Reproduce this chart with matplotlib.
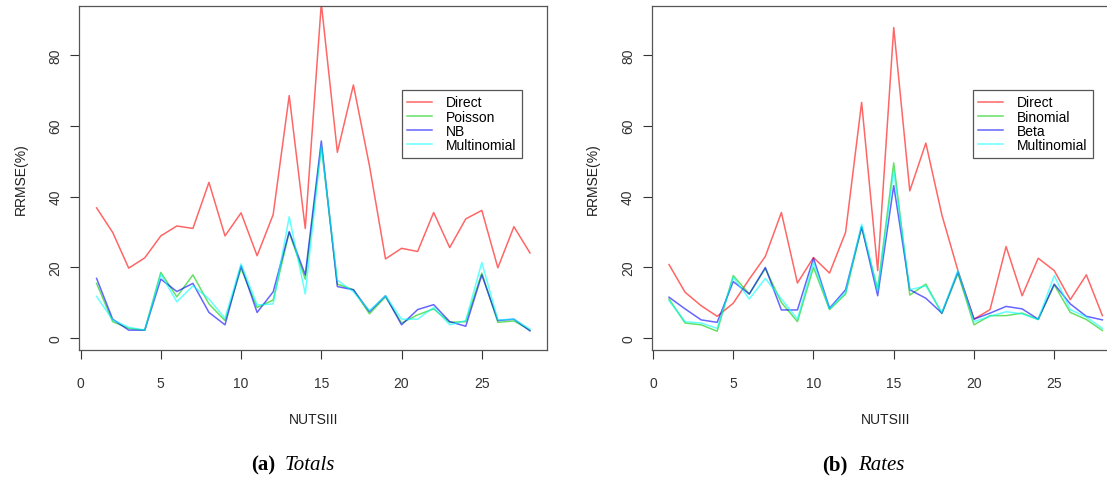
import matplotlib
matplotlib.use("Agg")
import matplotlib.pyplot as plt

plt.rcParams['font.family'] = ['Liberation Sans', 'DejaVu Sans']

nuts = list(range(1, 29))

# (a) Totals
tot_direct = [36.8, 29.9, 19.8, 22.7, 28.9, 31.7, 31.0, 44.0, 28.9, 35.4, 23.3, 34.9, 68.5, 31.0,
              94.5, 52.5, 71.5, 48.7, 22.4, 25.4, 24.5, 35.5, 25.6, 33.7, 36.1, 19.9, 31.5, 24.1]
tot_poisson = [15.5, 4.7, 2.8, 2.3, 18.6, 11.7, 17.9, 9.7, 5.0, 19.7, 8.7, 10.8, 29.9, 16.7,
               54.3, 15.3, 13.7, 6.9, 11.7, 4.3, 6.6, 8.3, 4.5, 4.7, 18.4, 4.5, 4.9, 2.3]
tot_nb = [16.9, 5.4, 2.3, 2.3, 16.7, 13.2, 15.5, 7.3, 3.8, 20.5, 7.3, 13.1, 30.1, 17.9,
          55.7, 14.6, 13.7, 7.5, 12.0, 3.8, 8.1, 9.5, 4.7, 3.4, 17.9, 5.0, 5.4, 2.1]
tot_multi = [11.8, 5.2, 3.1, 2.3, 18.1, 10.3, 14.8, 11.1, 5.6, 21.0, 9.4, 9.7, 34.3, 12.5,
             54.3, 16.4, 13.1, 7.8, 12.0, 5.4, 5.4, 8.7, 3.8, 5.0, 21.4, 5.2, 5.4, 2.6]

# (b) Rates
rat_direct = [20.8, 13.0, 9.2, 6.2, 9.9, 16.7, 23.1, 35.5, 15.6, 22.8, 18.4, 29.9, 66.6, 19.1,
              87.7, 41.6, 55.1, 34.8, 19.1, 5.4, 8.1, 25.9, 12.0, 22.6, 19.1, 10.9, 17.9, 6.4]
rat_binomial = [11.1, 4.3, 3.8, 2.0, 17.7, 12.5, 19.7, 10.1, 4.7, 20.0, 8.1, 12.5, 31.3, 13.9,
                49.5, 12.2, 15.3, 7.0, 18.3, 3.8, 6.4, 6.4, 7.1, 5.3, 15.1, 7.3, 5.3, 2.2]
rat_beta = [11.6, 8.3, 5.2, 4.5, 16.0, 12.5, 20.0, 8.0, 8.0, 22.6, 8.5, 13.7, 31.5, 12.0,
            43.1, 13.7, 11.3, 7.1, 18.8, 5.4, 7.1, 9.0, 8.3, 5.4, 15.3, 9.7, 6.2, 5.2]
rat_multi = [10.6, 4.7, 4.3, 2.8, 17.2, 11.1, 16.9, 11.1, 5.4, 21.4, 8.3, 13.0, 32.2, 13.4,
             47.3, 13.7, 14.8, 7.3, 19.1, 4.7, 6.2, 7.5, 6.9, 5.3, 17.7, 8.1, 6.0, 2.8]

colors = ['#ff0000', '#00cc00', '#0000ff', '#00ffff']

# series, legend labels, axes rect, caption tag, caption name, caption split x
panels = [
    ([tot_direct, tot_poisson, tot_nb, tot_multi], ['Direct', 'Poisson', 'NB', 'Multinomial'],
     [0.0716, 0.2703, 0.4228, 0.7145], '(a)', 'Totals', 0.2485, 0.689),
    ([rat_direct, rat_binomial, rat_beta, rat_multi], ['Direct', 'Binomial', 'Beta', 'Multinomial'],
     [0.5887, 0.2703, 0.4228, 0.7145], '(b)', 'Rates', 0.766, 0.686),
]

fig = plt.figure(figsize=(11.07, 4.81), dpi=100)

for series, labels, rect, tag, name, cx, lx in panels:
    ax = fig.add_axes(rect)
    for vals, lab, col in zip(series, labels, colors):
        ax.plot(nuts, vals, color=col, alpha=0.6, lw=1.1, label=lab)
    ax.set_xlim(-0.08, 29.08)
    ax.set_ylim(-3.3, 93.7)
    ax.set_xticks([0, 5, 10, 15, 20, 25])
    ax.set_yticks([0, 20, 40, 60, 80])
    ax.tick_params(direction='out', length=6.5, width=0.8, colors='#333333', labelsize=10)
    ax.tick_params(axis='x', pad=12)
    ax.tick_params(axis='y', pad=5.5)
    for t in ax.get_yticklabels():
        t.set_rotation(90)
        t.set_va('center')
    for s in ax.spines.values():
        s.set_color('#555555')
        s.set_linewidth(0.9)
    ax.set_xlabel('NUTSIII', fontsize=10, color='#222222', labelpad=16)
    ax.set_ylabel('RRMSE(%)', fontsize=10, color='#222222', labelpad=15)
    leg = ax.legend(loc='upper left', bbox_to_anchor=(lx, 0.757), borderaxespad=0,
                    fancybox=False, edgecolor='#555555', framealpha=1, fontsize=10,
                    handlelength=1.8, handletextpad=1.0, labelspacing=0.02, borderpad=0.4)
    leg.get_frame().set_linewidth(0.9)
    fig.text(cx, 0.0125, tag, fontsize=15, fontweight='bold', family='Liberation Serif',
             ha='right', va='bottom')
    fig.text(cx + 0.009, 0.0125, name, fontsize=15, style='italic', family='Liberation Serif',
             ha='left', va='bottom')

fig.savefig('out.png', dpi=100)
